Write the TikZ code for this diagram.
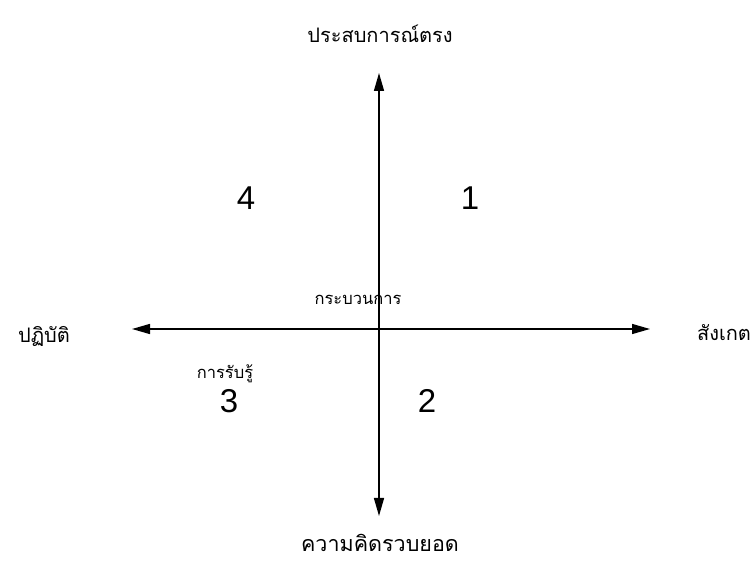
\documentclass[tikz,border=0pt]{standalone}
\usepackage{fontspec}
\setmainfont{Liberation Sans}
\newfontfamily\thaifont[Script=Thai]{Loma}
\usetikzlibrary{arrows.meta}
\begin{document}
\begin{tikzpicture}[x=1pt,y=-1pt,
  axis/.style={line width=1.4pt,-{Triangle[length=18pt,width=10pt]}},
  big/.style={font=\thaifont\fontsize{20}{24}\selectfont,inner sep=0pt},
  small/.style={font=\thaifont\fontsize{16.5}{18}\selectfont,inner sep=0pt},
  num/.style={font=\fontsize{33}{38}\selectfont,inner sep=0pt}]
\useasboundingbox (0,0) rectangle (756,561);
\coordinate (o) at (379,329);
\coordinate (top) at (379,73);
\coordinate (bot) at (379,516);
\coordinate (lft) at (132,329);
\coordinate (rgt) at (650,329);
\draw[axis] (o) -- (top);
\draw[axis] (o) -- (bot);
\draw[axis] (o) -- (lft);
\draw[axis] (o) -- (rgt);
\node[big] (t1) at (380,34) {ประสบการณ์ตรง};
\node[big,font=\thaifont\fontsize{21.5}{24}\selectfont] (t2) at (380,543) {ความคิดรวบยอด};
\node[big] (t3) at (44,336) {ปฏิบัติ};
\node[big] (t4) at (724,333) {สังเกต};
\node[small] (t5) at (358,300) {กระบวนการ};
\node[small] (t6) at (225,374) {การรับรู้};
\node[num] (n4) at (246,198) {4};
\node[num] (n1) at (470,198) {1};
\node[num] (n3) at (229,401) {3};
\node[num] (n2) at (427,401) {2};
\end{tikzpicture}
\end{document}
